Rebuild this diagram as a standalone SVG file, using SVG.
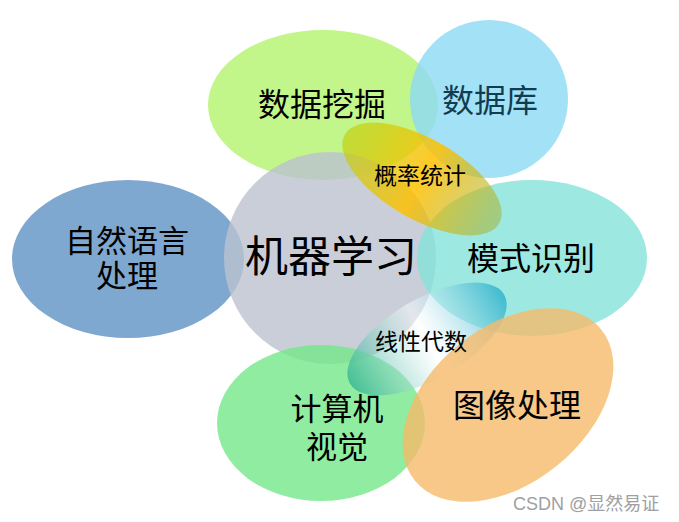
<svg xmlns="http://www.w3.org/2000/svg" width="679" height="522" viewBox="0 0 679 522">
<defs>
<style>
.b{fill-opacity:0.8}
.t{font-family:"Noto Sans CJK SC","Microsoft YaHei",sans-serif;fill:#000;text-anchor:middle}
.wm{font-family:"Liberation Sans","Noto Sans CJK SC",sans-serif;fill:#a0a0a0;font-size:18px}
</style>
<linearGradient id="gp" x1="0" y1="0" x2="1" y2="0">
<stop offset="0" stop-color="#c0cc00" stop-opacity="0.6"/>
<stop offset="0.5" stop-color="#ffc000" stop-opacity="0.85"/>
<stop offset="1" stop-color="#a0b030" stop-opacity="0.5"/>
</linearGradient>
<linearGradient id="gl" x1="0" y1="0" x2="1" y2="0">
<stop offset="0" stop-color="#20a890" stop-opacity="0.65"/>
<stop offset="0.5" stop-color="#ffffff" stop-opacity="0.5"/>
<stop offset="1" stop-color="#18a8c8" stop-opacity="0.7"/>
</linearGradient>
</defs>
<rect width="679" height="522" fill="#fff"/>
<g id="shapes">
<ellipse id="e-mining" class="b" cx="323" cy="105" rx="115" ry="75" fill="#b3f26d"/>
<ellipse id="e-db" class="b" cx="489" cy="99" rx="79" ry="79" fill="#8cd9f5"/>
<ellipse id="e-nlp" class="b" cx="128" cy="259" rx="116" ry="79" fill="#5f92c4"/>
<ellipse id="e-ml" class="b" cx="330" cy="258" rx="106" ry="106" fill="#bcc2d0"/>
<ellipse id="e-pr" class="b" cx="532" cy="258" rx="115" ry="78" fill="#84e2d8"/>
<ellipse id="e-cv" class="b" cx="321" cy="423" rx="104" ry="78" fill="#74e788"/>
<ellipse id="e-la" cx="0" cy="0" rx="89" ry="40" fill="url(#gl)" transform="translate(427 339) rotate(-30)"/>
<ellipse id="e-ip" class="b" cx="0" cy="0" rx="120" ry="78" fill="#f6ba6a" transform="translate(508 405) rotate(-39)"/>
<ellipse id="e-ps" cx="0" cy="0" rx="89" ry="40" fill="url(#gp)" transform="translate(422 179) rotate(30)"/>
</g>
<g id="n-mining"><text class="t" x="322" y="116" font-size="32">数据挖掘</text></g>
<g id="n-db"><text class="t" x="490" y="112" font-size="32" style="fill:#103e50">数据库</text></g>
<g id="n-ml"><text class="t" x="331" y="272" font-size="43">机器学习</text></g>
<g id="n-nlp"><text class="t" x="127" y="252" font-size="31">自然语言</text><text class="t" x="127" y="287" font-size="31">处理</text></g>
<g id="n-pr"><text class="t" x="531" y="270" font-size="32">模式识别</text></g>
<g id="n-cv"><text class="t" x="337" y="420" font-size="31">计算机</text><text class="t" x="337" y="458" font-size="31">视觉</text></g>
<g id="n-ip"><text class="t" x="517" y="417" font-size="32">图像处理</text></g>
<g id="n-ps"><text class="t" x="420" y="184" font-size="23">概率统计</text></g>
<g id="n-la"><text class="t" x="421" y="350" font-size="23">线性代数</text></g>
<g id="connectors"></g>
<text class="wm" x="513" y="510">CSDN @显然易证</text>
</svg>
